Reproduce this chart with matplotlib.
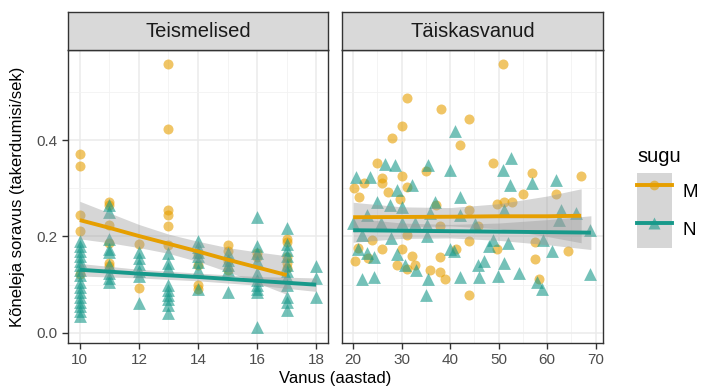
import matplotlib
matplotlib.use("Agg")
import matplotlib.pyplot as plt
from matplotlib.lines import Line2D
from matplotlib.patches import Patch
from matplotlib.legend_handler import HandlerTuple
from matplotlib.ticker import MultipleLocator

plt.rcParams['font.family'] = ['Liberation Sans', 'DejaVu Sans']

# värvid
col_m = '#E69F00'
col_n = '#17998A'

# Teismelised, M (vanus, soravus)
teen_m_age = [10, 10, 10, 10, 10,
              11, 11, 11, 11, 11, 11,
              12, 12,
              13, 13, 13, 13, 13, 13,
              14, 14, 14, 14,
              15, 15, 15, 15,
              16, 16,
              17, 17, 17, 17, 17]
teen_m_val = [0.371, 0.347, 0.245, 0.212, 0.122,
              0.272, 0.265, 0.223, 0.187, 0.145, 0.138,
              0.185, 0.094,
              0.558, 0.423, 0.255, 0.245, 0.222, 0.183,
              0.163, 0.140, 0.100, 0.092,
              0.182, 0.170, 0.150, 0.130,
              0.165, 0.158,
              0.195, 0.188, 0.158, 0.145, 0.135]

# Teismelised, N
teen_n_age = [10] * 16 + [11] * 9 + [12] * 6 + [13] * 9 + [14] * 7 + [15] * 5 + [16] * 10 + [17] * 11 + [18] * 3
teen_n_val = [0.190, 0.180, 0.170, 0.160, 0.150, 0.140, 0.130, 0.120, 0.105, 0.095, 0.085, 0.075, 0.065, 0.055, 0.045, 0.035,
              0.266, 0.250, 0.195, 0.175, 0.168, 0.140, 0.125, 0.113, 0.105,
              0.168, 0.155, 0.142, 0.128, 0.118, 0.062,
              0.166, 0.145, 0.135, 0.100, 0.090, 0.078, 0.070, 0.058, 0.041,
              0.190, 0.178, 0.168, 0.160, 0.148, 0.130, 0.092,
              0.165, 0.152, 0.140, 0.130, 0.085,
              0.241, 0.180, 0.165, 0.150, 0.125, 0.110, 0.100, 0.092, 0.085, 0.013,
              0.218, 0.185, 0.172, 0.160, 0.140, 0.128, 0.115, 0.100, 0.075, 0.065, 0.048,
              0.138, 0.114, 0.075]

# Täiskasvanud, M
adult_m_age = [50.9, 31.1, 38.1, 43.9, 30.1, 28.0, 42.0, 24.9, 48.9, 35.0,
               56.9, 66.9, 30.1, 25.9, 22.2, 25.9, 31.1, 20.1, 27.1, 21.3,
               55.1, 61.9, 29.7, 52.7, 51.0, 49.6, 37.0, 43.9, 37.9, 45.8,
               31.1, 23.8, 43.9, 57.5, 30.1, 25.9, 20.9, 49.6, 41.3, 32.1,
               37.9, 23.1, 20.4, 64.3, 57.5, 29.0, 31.1, 32.8, 35.9, 37.9,
               38.9, 58.3, 43.9]
adult_m_val = [0.558, 0.487, 0.465, 0.443, 0.430, 0.404, 0.390, 0.352, 0.353, 0.335,
               0.332, 0.326, 0.326, 0.322, 0.312, 0.311, 0.302, 0.300, 0.293, 0.283,
               0.288, 0.288, 0.277, 0.272, 0.272, 0.268, 0.266, 0.256, 0.221, 0.222,
               0.203, 0.193, 0.190, 0.188, 0.174, 0.174, 0.177, 0.174, 0.174, 0.160,
               0.158, 0.156, 0.150, 0.170, 0.153, 0.140, 0.133, 0.141, 0.131, 0.127,
               0.111, 0.111, 0.078]

# Täiskasvanud, N
adult_n_age = [40.9, 52.6, 35.5, 26.6, 28.7, 39.9, 50.9, 20.5, 23.4, 32.1,
               29.0, 52.4, 56.9, 61.9, 42.1, 24.9, 27.6, 36.9, 30.1, 51.0,
               62.9, 22.8, 35.9, 42.1, 20.0, 25.7, 30.1, 32.8, 35.2, 45.1,
               62.5, 65.9, 68.9, 21.8, 27.9, 35.2, 48.9, 51.9, 59.2, 47.9,
               20.9, 22.8, 24.2, 39.9, 40.7, 29.0, 60.9, 30.7, 33.0, 46.9,
               45.8, 51.0, 54.1, 21.8, 24.2, 35.5, 42.1, 45.9, 49.9, 57.9,
               58.9, 68.8, 35.0]
adult_n_val = [0.419, 0.362, 0.348, 0.350, 0.348, 0.337, 0.337, 0.323, 0.323, 0.307,
               0.297, 0.307, 0.310, 0.317, 0.283, 0.272, 0.266, 0.272, 0.262, 0.255,
               0.256, 0.245, 0.248, 0.245, 0.228, 0.228, 0.228, 0.228, 0.224, 0.226,
               0.234, 0.248, 0.213, 0.203, 0.196, 0.200, 0.193, 0.186, 0.193, 0.180,
               0.174, 0.166, 0.157, 0.174, 0.169, 0.163, 0.169, 0.141, 0.130, 0.149,
               0.140, 0.144, 0.125, 0.111, 0.115, 0.111, 0.115, 0.115, 0.118, 0.105,
               0.092, 0.122, 0.078]

# regressioonijooned ja usaldusvahemikud (loetud jooniselt)
teen_m_fit_x = [10, 11, 12, 13, 14, 15, 16, 17]
teen_m_fit = [0.234, 0.218, 0.201, 0.185, 0.169, 0.152, 0.136, 0.120]
teen_m_lo = [0.195, 0.187, 0.177, 0.165, 0.148, 0.127, 0.104, 0.080]
teen_m_hi = [0.273, 0.249, 0.225, 0.205, 0.190, 0.177, 0.168, 0.160]

teen_n_fit_x = [10, 12, 14, 16, 18]
teen_n_fit = [0.131, 0.123, 0.116, 0.108, 0.100]
teen_n_lo = [0.118, 0.114, 0.108, 0.099, 0.086]
teen_n_hi = [0.144, 0.132, 0.124, 0.117, 0.114]

adult_m_fit_x = [20, 30, 40, 50, 60, 67]
adult_m_fit = [0.240, 0.2405, 0.241, 0.242, 0.242, 0.243]
adult_m_lo = [0.209, 0.2195, 0.222, 0.216, 0.200, 0.187]
adult_m_hi = [0.271, 0.2615, 0.260, 0.268, 0.284, 0.299]

adult_n_fit_x = [20, 30, 40, 50, 60, 69]
adult_n_fit = [0.213, 0.212, 0.211, 0.210, 0.209, 0.208]
adult_n_lo = [0.188, 0.196, 0.197, 0.192, 0.183, 0.173]
adult_n_hi = [0.238, 0.228, 0.225, 0.228, 0.235, 0.243]

panels = [
    ("Teismelised", teen_m_age, teen_m_val, teen_n_age, teen_n_val,
     (teen_m_fit_x, teen_m_fit, teen_m_lo, teen_m_hi),
     (teen_n_fit_x, teen_n_fit, teen_n_lo, teen_n_hi),
     (9.6, 18.4), [10, 12, 14, 16, 18], 1),
    ("Täiskasvanud", adult_m_age, adult_m_val, adult_n_age, adult_n_val,
     (adult_m_fit_x, adult_m_fit, adult_m_lo, adult_m_hi),
     (adult_n_fit_x, adult_n_fit, adult_n_lo, adult_n_hi),
     (17.7, 71.5), [20, 30, 40, 50, 60, 70], 5),
]

W, H = 705, 388
fig = plt.figure(figsize=(W / 100, H / 100), dpi=100)

boxes = [(68, 328), (342, 603)]
top, bottom, strip_top = 50, 343, 12

for (title, mx, my, nx, ny, fm, fn, xlim, xt, minor), (x0, x1) in zip(panels, boxes):
    ax = fig.add_axes([x0 / W, (H - bottom) / H, (x1 - x0) / W, (bottom - top) / H])
    ax.set_xlim(*xlim)
    ax.set_ylim(-0.021, 0.587)
    ax.set_xticks(xt)
    ax.xaxis.set_minor_locator(MultipleLocator(minor))
    ax.set_yticks([0.0, 0.2, 0.4])
    ax.yaxis.set_minor_locator(MultipleLocator(0.1))
    ax.grid(which='major', color='#EBEBEB', lw=1.1, zorder=0)
    ax.grid(which='minor', color='#F2F2F2', lw=0.6, zorder=0)
    ax.set_axisbelow(True)
    for s in ax.spines.values():
        s.set_color('#333333')
        s.set_linewidth(1.0)
    ax.tick_params(which='major', length=4, width=1, color='#333333',
                   labelsize=11, labelcolor='#4D4D4D')
    ax.tick_params(which='minor', length=0)
    if x0 > 100:
        ax.tick_params(axis='y', labelleft=False, length=0)
    else:
        ax.set_yticklabels(['0.0', '0.2', '0.4'])

    ax.scatter(mx, my, s=52, marker='o', color=col_m, alpha=0.6, lw=0, zorder=2)
    ax.scatter(nx, ny, s=85, marker='^', color=col_n, alpha=0.6, lw=0, zorder=2)

    for (fx, fy, lo, hi), c in [(fm, col_m), (fn, col_n)]:
        ax.fill_between(fx, lo, hi, color='#999999', alpha=0.4, lw=0, zorder=3)
        ax.plot(fx, fy, color=c, lw=2.8, zorder=4, solid_capstyle='butt')

    # riba
    sax = fig.add_axes([x0 / W, (H - top) / H, (x1 - x0) / W, (top - strip_top) / H])
    sax.set_facecolor('#D9D9D9')
    sax.set_xticks([])
    sax.set_yticks([])
    for s in sax.spines.values():
        s.set_color('#333333')
        s.set_linewidth(1.0)
    sax.text(0.5, 0.48, title, ha='center', va='center', fontsize=14.5, color='#1A1A1A',
             transform=sax.transAxes)

fig.text((68 + 603) / 2 / W, 2 / H, "Vanus (aastad)", ha='center', va='bottom', fontsize=12)
fig.text(10 / W, (H - (top + bottom) / 2) / H, "Kõneleja soravus (takerdumisi/sek)",
         rotation=90, ha='left', va='center', fontsize=12)

handles = [
    (Patch(facecolor='#D6D6D6', edgecolor='none'),
     Line2D([], [], color=col_m, lw=2.8),
     Line2D([], [], color=col_m, marker='o', ms=7, alpha=0.6, lw=0, mec='none')),
    (Patch(facecolor='#D6D6D6', edgecolor='none'),
     Line2D([], [], color=col_n, lw=2.8),
     Line2D([], [], color=col_n, marker='^', ms=8, alpha=0.6, lw=0, mec='none')),
]
leg = fig.legend(handles, ['M', 'N'], title='sugu',
                 handler_map={tuple: HandlerTuple(ndivide=1, pad=0)},
                 loc='upper left', bbox_to_anchor=(637 / W, (H - 147) / H),
                 frameon=False, fontsize=13.5, title_fontsize=14.5,
                 handlelength=1.85, handleheight=2.7, labelspacing=0,
                 handletextpad=0.55, borderpad=0, borderaxespad=0)
leg._legend_box.align = 'left'
leg._legend_box.sep = 5

fig.savefig('out.png', dpi=100)
